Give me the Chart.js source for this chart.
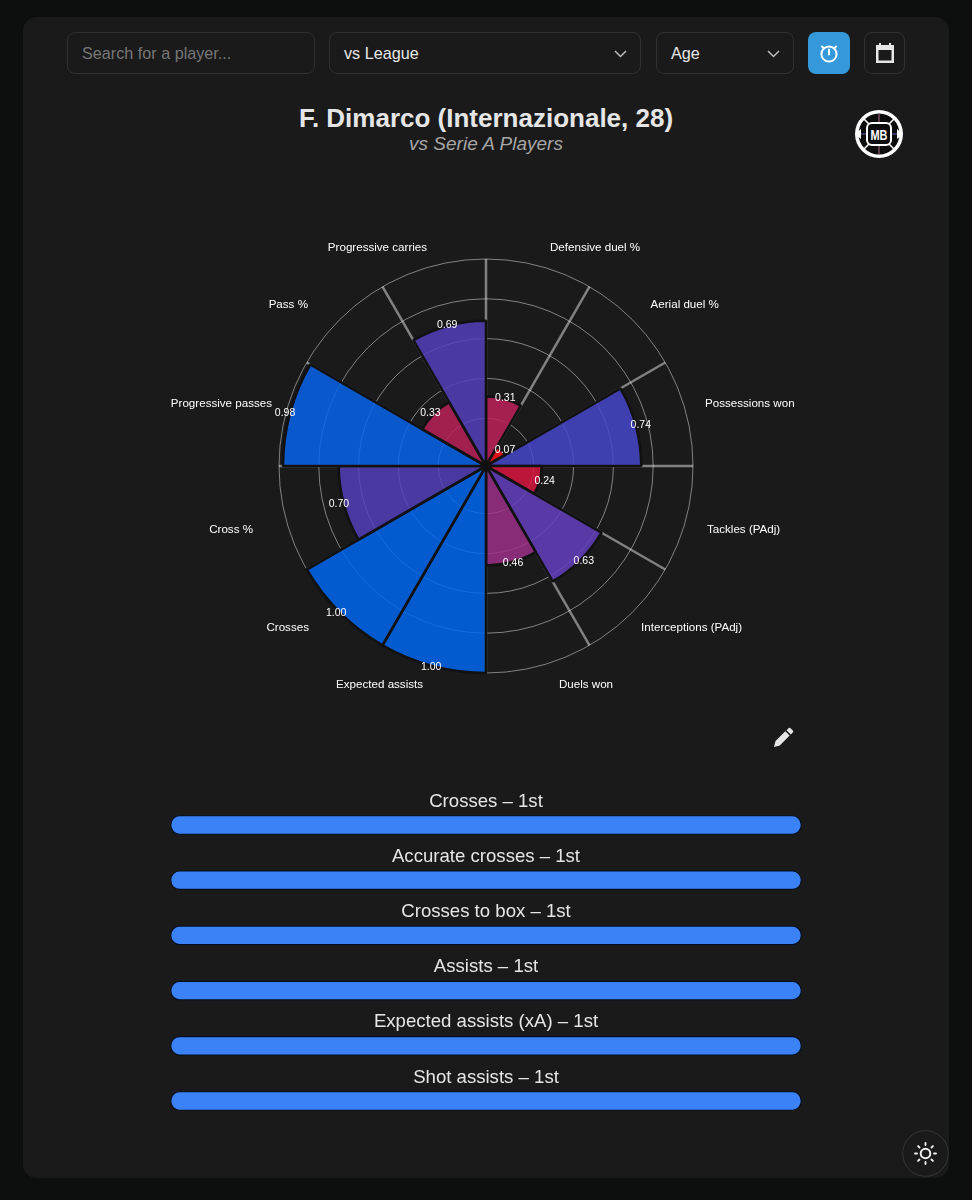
<!DOCTYPE html>
<html>
<head>
<meta charset="utf-8">
<script src="https://cdn.jsdelivr.net/npm/chart.js@4"></script>
<style>
html,body{margin:0;padding:0;background:#0d0f0f;width:972px;height:1200px;overflow:hidden;font-family:"Liberation Sans",Arial,sans-serif}
#card{position:absolute;left:23px;top:17px;width:926px;height:1161px;background:#1a1a1a;border-radius:14px}
.ctl{position:absolute;top:32px;height:40px;border:1px solid #303030;border-radius:8px;box-sizing:content-box;background:#1a1a1a;color:#e8e8e8;font-size:16.2px;line-height:41px;padding-left:14px}
.btn{position:absolute;top:32px;width:39px;height:40px;border-radius:8px;border:1px solid #303030;display:flex;align-items:center;justify-content:center}
.chev{position:absolute;right:13px;top:17px}
h1{position:absolute;left:0;width:972px;top:103px;margin:0;text-align:center;font-size:26px;line-height:30px;font-weight:700;color:#e6e6e6}
h2{position:absolute;left:0;width:972px;top:132px;margin:0;text-align:center;font-size:19px;line-height:24px;font-weight:400;font-style:italic;color:#a6a6a6}
canvas{position:absolute}
</style>
</head>
<body>
<div id="card"></div>
<div class="ctl" style="left:67px;width:232px;color:#777">Search for a player...</div>
<div class="ctl" style="left:329px;width:296px">vs League<svg class="chev" width="13" height="8" viewBox="0 0 13 8"><path d="M1 1l5.500 5.500 5.500-5.500" fill="none" stroke="#bbb" stroke-width="1.500"/></svg></div>
<div class="ctl" style="left:656px;width:122px">Age<svg class="chev" width="13" height="8" viewBox="0 0 13 8"><path d="M1 1l5.500 5.500 5.500-5.500" fill="none" stroke="#bbb" stroke-width="1.500"/></svg></div>
<div class="btn" style="left:808px;background:#3498db;width:42px;height:42px;border:0">
<svg width="20" height="22" viewBox="0 0 20 22"><circle cx="10" cy="12" r="7.600" fill="none" stroke="#fff" stroke-width="2"/><path d="M10 7.500v5" stroke="#fff" stroke-width="2" stroke-linecap="round"/><path d="M3 4.500l2 2M17 4.500l-2 2" stroke="#fff" stroke-width="2" stroke-linecap="round"/></svg></div>
<div class="btn" style="left:864px">
<svg width="20" height="20" viewBox="0 0 20 20"><path fill="#e6e6e6" d="M1 2h3V0h2v2h8V0h2v2h3v18H1zM3.500 7v10.500h13V7z"/></svg></div>
<h1>F. Dimarco (Internazionale, 28)</h1>
<h2>vs Serie A Players</h2>
<svg style="position:absolute;left:855px;top:110px" width="48" height="48" viewBox="0 0 48 48">
<circle cx="24" cy="24" r="24" fill="#fff"/><circle cx="24" cy="24" r="20.500" fill="#0c0c0c"/>
<path d="M24 3v10M24 35v10" stroke="#a86a8a" stroke-width="1"/><path d="M3 24h9M36 24h9" stroke="#5a5ab0" stroke-width="1"/>
<path d="M9 9l7 7M39 9l-7 7M9 39l7-7M39 39l-7-7" stroke="#fff" stroke-width="1.500"/>
<path d="M0 24l6-5v10zM48 24l-6-5v10z" fill="#fff"/>
<rect x="12" y="13" width="24" height="22" rx="5" fill="#0c0c0c" stroke="#fff" stroke-width="2"/>
<text x="24" y="29.500" text-anchor="middle" font-family="Liberation Sans, sans-serif" font-weight="700" font-size="14" textLength="17" lengthAdjust="spacingAndGlyphs" fill="#fff">MB</text>
</svg>
<svg style="position:absolute;left:773px;top:727px" width="21" height="21" viewBox="0 0 21 21"><path fill="#e6e6e6" d="M15.500 1.200a1.500 1.500 0 0 1 2.100 0l2.200 2.200a1.500 1.500 0 0 1 0 2.100l-2 2-4.300-4.300zM12.300 4.300l4.300 4.300-9.800 9.800-5.800 1.500 1.500-5.800z"/></svg>
<canvas id="polar" width="972" height="530" style="left:0;top:200px;width:972px;height:530px"></canvas>
<canvas id="bars" width="650" height="350" style="left:161px;top:780px;width:650px;height:350px"></canvas>
<svg style="position:absolute;left:902px;top:1130px" width="47" height="47" viewBox="0 0 47 47">
<circle cx="23.500" cy="23.500" r="22.800" fill="#1a1a1a" stroke="#363636"/>
<circle cx="23.500" cy="23.500" r="4.800" fill="none" stroke="#eee" stroke-width="2"/>
<path d="M23.500 13v2M23.500 32v2M13 23.500h2M32 23.500h2M16.100 16.100l1.400 1.400M29.500 29.500l1.400 1.400M16.100 30.900l1.400-1.400M29.500 17.500l1.400-1.400" stroke="#eee" stroke-width="1.900" stroke-linecap="round"/>
</svg>
<script>
const metricLabels = ["Defensive duel %","Aerial duel %","Possessions won","Tackles (PAdj)","Interceptions (PAdj)","Duels won","Expected assists","Crosses","Cross %","Progressive passes","Pass %","Progressive carries"];
const metricValues = [0.31,0.07,0.74,0.24,0.63,0.46,1.00,1.00,0.70,0.98,0.33,0.69];
const metricColors = ["rgba(190,33,90,.85)","rgba(254,19,30,.85)","rgba(70,70,203,.85)","rgba(219,22,66,.85)","rgba(101,64,190,.85)","rgba(158,48,137,.85)","rgba(1,103,240,.85)","rgba(1,103,240,.85)","rgba(82,64,184,.85)","rgba(7,101,236,.85)","rgba(187,34,90,.85)","rgba(84,64,187,.85)"];
const labelNudge = [7,9,6.5,8.500,-0.5,16,-6,-21.500,-20.500,-1.500,-22.500,-2];
const rankLabels = ["Crosses – 1st","Accurate crosses – 1st","Crosses to box – 1st","Assists – 1st","Expected assists (xA) – 1st","Shot assists – 1st"];
const rankValues = [1,1,1,1,1,1];
const FONT = '"Liberation Sans", Arial, sans-serif';

const polarText = {
  id:'polarText',
  afterDatasetsDraw(chart){
    const ctx = chart.ctx, r = chart.scales.r, arcs = chart.getDatasetMeta(0).data;
    ctx.save();
    ctx.fillStyle = '#fff';
    ctx.textBaseline = 'middle';
    ctx.font = '11.600px ' + FONT;
    metricLabels.forEach((t,i)=>{
      const p = r.getPointPosition(i, r.drawingArea + 13, Math.PI / metricLabels.length);
      const right = i < metricLabels.length / 2;
      ctx.textAlign = right ? 'left' : 'right';
      ctx.fillText(t, p.x + labelNudge[i], p.y + (p.y < r.yCenter ? -5.5 : 6.5));
    });
    ctx.font = '10.500px ' + FONT;
    ctx.textAlign = 'center';
    arcs.forEach((a,i)=>{
      const mid = (a.startAngle + a.endAngle) / 2;
      ctx.fillText(metricValues[i].toFixed(2),
        a.x + Math.cos(mid) * (a.outerRadius + 5),
        a.y + Math.sin(mid) * (a.outerRadius + 1));
    });
    ctx.restore();
  }
};
new Chart(document.getElementById('polar'),{
  type:'polarArea',
  data:{labels:metricLabels,datasets:[{data:metricValues,backgroundColor:metricColors,borderColor:'#111111',borderWidth:2.600}]},
  options:{
    responsive:false,animation:false,
    layout:{padding:{left:279,right:279,top:59,bottom:57}},
    plugins:{legend:{display:false},tooltip:{enabled:false}},
    scales:{r:{
      min:-0.04,max:1,
      ticks:{display:false,stepSize:0.2},
      grid:{display:true,circular:true,color:'rgba(255,255,255,.45)',lineWidth:1},
      angleLines:{display:true,color:'rgba(255,255,255,.45)',lineWidth:2.500},
      pointLabels:{display:false}
    }}
  },
  plugins:[polarText]
});

const rankText = {
  id:'rankText',
  afterDatasetsDraw(chart){
    const ctx = chart.ctx, bars = chart.getDatasetMeta(0).data;
    ctx.save();
    ctx.fillStyle = '#e6e6e6';
    ctx.font = '18.600px ' + FONT;
    ctx.textAlign = 'center';
    ctx.textBaseline = 'middle';
    const cx = (chart.chartArea.left + chart.chartArea.right) / 2;
    bars.forEach((b,i)=>ctx.fillText(rankLabels[i], cx, b.y - 23.500));
    ctx.restore();
  }
};
new Chart(document.getElementById('bars'),{
  type:'bar',
  data:{labels:rankLabels,datasets:[{data:rankValues,backgroundColor:'#3b82f6',borderColor:'#050f24',borderWidth:1.200,borderRadius:9.500,borderSkipped:false,barThickness:19}]},
  options:{
    indexAxis:'y',responsive:false,animation:false,
    layout:{padding:{left:9.500,right:9.500,top:17.400,bottom:1.400}},
    plugins:{legend:{display:false},tooltip:{enabled:false}},
    scales:{x:{display:false,min:0,max:1},y:{display:false}}
  },
  plugins:[rankText]
});
</script>
</body>
</html>
